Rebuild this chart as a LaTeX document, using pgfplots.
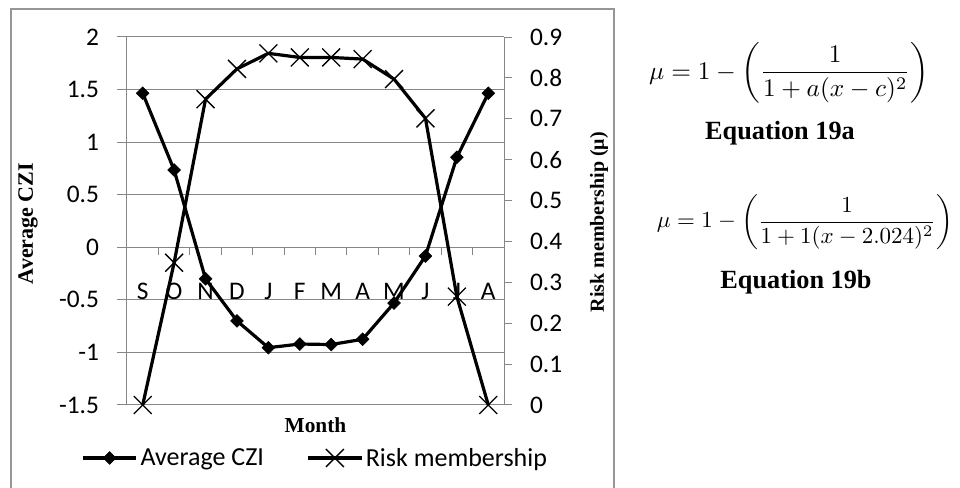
\documentclass[border=0pt]{standalone}
\usepackage[no-math]{fontspec}
\setmainfont{Carlito}
\newfontfamily\tnr{Liberation Serif}
\usepackage{graphicx}
\usepackage{pgfplots}
\pgfplotsset{compat=1.18}
\definecolor{axgray}{RGB}{134,134,134}
\definecolor{boxgray}{RGB}{150,150,150}

\pgfplotstableread{
m czi risk
1 1.465 0
2 0.735 0.348
3 -0.30 0.748
4 -0.70 0.822
5 -0.955 0.860
6 -0.92 0.850
7 -0.925 0.850
8 -0.875 0.846
9 -0.53 0.797
10 -0.083 0.701
11 0.856 0.265
12 1.465 0
}\data

\pgfplotsset{
  common/.style={
    width=282.75pt, height=276pt, scale only axis,
    at={(95.25pt,62.25pt)}, anchor=south west,
    xmin=0.5, xmax=12.5, clip=false,
    axis line style={axgray, line width=0.75pt},
    every tick/.style={axgray, line width=0.75pt},
    tick align=outside,
    tick label style={font=\fontsize{19}{20}\selectfont, text=black},
    /pgf/number format/assume math mode=true,
  },
  czi/.style={black, line width=2.4pt, mark=square*, mark size=3.4pt, mark options={rotate=45, line width=0.4pt, fill=black}},
  risk/.style={black, line width=2.4pt, mark=x, mark size=9.5pt, mark options={line width=1pt}},
}

\begin{document}
\begin{tikzpicture}
\path[use as bounding box] (0pt,0pt) rectangle (720pt,366pt);
\draw[boxgray, line width=0.9pt] (8.25pt,-2pt) -- (8.25pt,359.25pt) -- (460.5pt,359.25pt) -- (460.5pt,-2pt);

\begin{axis}[common,
  axis x line*=middle, axis y line*=left,
  ymin=-1.5, ymax=2, ytick={-1.5,-1,-0.5,0,0.5,1,1.5,2},
  xtick={1,...,12}, xticklabels={S,O,N,D,J,F,M,A,M,J,J,A},
  minor xtick={0.5,1.5,...,12.5},
  major x tick style={draw=none},
  major tick length=7.5pt, minor tick length=6pt,
  ymajorgrids, grid style={axgray, line width=0.75pt},
  hide obscured x ticks=false, hide obscured y ticks=false,
  xticklabel style={anchor=base, yshift=-32pt},
  yticklabel style={xshift=-10pt},
  ylabel={\fontsize{16.5}{18}\selectfont\tnr\bfseries Average CZI},
  xlabel={\fontsize{16}{18}\selectfont\tnr\bfseries Month},
  every axis y label/.style={at={(axis description cs:-0.2626,0.493)}, rotate=90, anchor=center},
  every axis x label/.style={at={(axis description cs:0.5,-0.054)}, anchor=center},
]
\addplot[czi] table[x=m,y=czi]{\data};
\end{axis}

\begin{axis}[common,
  axis x line=none, axis y line*=right,
  ymin=0, ymax=0.9, ytick={0,0.1,0.2,0.3,0.4,0.5,0.6,0.7,0.8,0.9},
  major tick length=6pt,
  yticklabel style={xshift=10pt},
  ylabel={\fontsize{15}{17}\selectfont\tnr\bfseries Risk membership (μ)},
  every axis y label/.style={at={(axis description cs:1.252,0.497)}, rotate=90, anchor=center},
  legend columns=2,
  legend style={draw=none, fill=none, at={(axis description cs:0.5,-0.144)}, anchor=center,
    font=\fontsize{19.5}{20}\selectfont, /tikz/every even column/.append style={column sep=30pt}},
  legend image code/.code={\draw[mark repeat=2, mark phase=2, #1] plot coordinates {(0pt,0pt) (20pt,0pt) (40pt,0pt)};},
]
\addlegendimage{czi}
\addlegendentry{Average CZI}
\addplot[risk] table[x=m,y=risk]{\data};
\addlegendentry{Risk membership}
\end{axis}

\node at (591.75pt,311.25pt) {\resizebox{210pt}{!}{$\displaystyle\mu = 1-\left(\frac{1}{1+a(x-c)^{2}}\right)$}};
\node at (585pt,266.25pt) {\fontsize{19.7}{22}\selectfont\tnr\bfseries Equation 19a};
\node at (603.75pt,199.5pt) {\resizebox{222pt}{!}{$\displaystyle\mu = 1-\left(\frac{1}{1+1(x-2.024)^{2}}\right)$}};
\node at (597pt,154.5pt) {\fontsize{19.7}{22}\selectfont\tnr\bfseries Equation 19b};
\end{tikzpicture}
\end{document}
